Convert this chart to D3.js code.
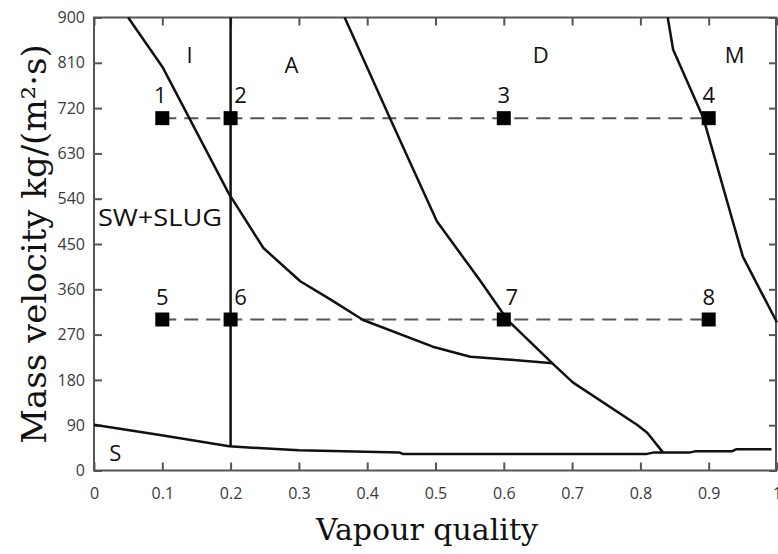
<!DOCTYPE html>
<html>
<head>
<meta charset="utf-8">
<script src="https://cdnjs.cloudflare.com/ajax/libs/d3/7.8.5/d3.min.js"></script>
<style>
  body { margin: 0; background: #fff; }
</style>
</head>
<body>
<div id="chart"></div>
<script>

// ---- data ----
var xTicks = [0, 0.1, 0.2, 0.3, 0.4, 0.5, 0.6, 0.7, 0.8, 0.9, 1];
var yTicks = [0, 90, 180, 270, 360, 450, 540, 630, 720, 810, 900];

// transition lines, [vapour quality, mass velocity]
var lineIA = [[0.050, 900], [0.101, 800], [0.197, 551], [0.248, 442], [0.302, 376], [0.346, 340],
  [0.394, 299], [0.496, 246], [0.551, 226], [0.600, 221], [0.663, 214], [0.672, 213]];
var lineAD = [[0.367, 900], [0.433, 701], [0.502, 495], [0.565, 378], [0.606, 298], [0.672, 212],
  [0.701, 175], [0.795, 91], [0.810, 75], [0.833, 36]];
var lineDM = [[0.840, 900], [0.848, 836], [0.892, 701], [0.950, 425], [1.0, 294]];
var lineS = [[0, 91], [0.099, 70], [0.198, 48], [0.300, 40], [0.447, 36], [0.452, 33], [0.810, 33],
  [0.820, 36], [0.873, 36], [0.880, 38], [0.934, 38], [0.940, 42], [0.992, 42]];
var lineSW = [[0.2, 48], [0.2, 900]];

// test points
var pointQuality = [0.1, 0.2, 0.6, 0.9, 0.1, 0.2, 0.6, 0.9];
var pointMass = [700, 700, 700, 700, 300, 300, 300, 300];
var pointNames = ['1', '2', '3', '4', '5', '6', '7', '8'];
var testMass = [700, 300];

// flow regime names
var regimeNames = ['I', 'A', 'D', 'M', 'S', 'SW+SLUG'];
var regimeQuality = [0.14, 0.289, 0.654, 0.938, 0.031, 0.0965];
var regimeMass = [810, 789, 810, 810, 18, 485];

function renderChart(params) {

  // Exposed variables
  var attrs = {
    svgWidth: 778,
    svgHeight: 554,
    marginTop: 17.5,
    marginBottom: 83.5,
    marginRight: 1,
    marginLeft: 94,
    container: 'body',
    lineColor: '#111',
    frameColor: '#555',
    tickColor: '#3a3a3a'
  };

  var main = function (selection) {
    selection.each(function scope() {

      //Calculated properties
      var calc = {};
      calc.chartWidth = attrs.svgWidth - attrs.marginRight - attrs.marginLeft;
      calc.chartHeight = attrs.svgHeight - attrs.marginBottom - attrs.marginTop;

      //Scales
      var scales = {};
      scales.x = d3.scaleLinear().domain([0, 1]).range([0, calc.chartWidth]);
      scales.y = d3.scaleLinear().domain([0, 900]).range([calc.chartHeight, 0]);

      var line = d3.line()
        .x(function (d) { return scales.x(d[0]); })
        .y(function (d) { return scales.y(d[1]); });

      var container = d3.select(this);

      var svg = container.patternify({ tag: 'svg', selector: 'svg-chart-container' })
        .attr('width', attrs.svgWidth)
        .attr('height', attrs.svgHeight)
        .style('display', 'block');

      var chart = svg.patternify({ tag: 'g', selector: 'chart' })
        .attr('transform', 'translate(' + attrs.marginLeft + ',' + attrs.marginTop + ')');

      //axes, ticks pointing inwards
      var axisBottom = chart.patternify({ tag: 'g', selector: 'axis-bottom' })
        .attr('transform', 'translate(0,' + calc.chartHeight + ')')
        .call(d3.axisBottom(scales.x).tickValues(xTicks).tickSize(-8).tickPadding(17)
          .tickFormat(function (d) { return d3.format('~g')(d); }));

      var axisLeft = chart.patternify({ tag: 'g', selector: 'axis-left' })
        .call(d3.axisLeft(scales.y).tickValues(yTicks).tickSize(-8).tickPadding(9));

      var axisTop = chart.patternify({ tag: 'g', selector: 'axis-top' })
        .call(d3.axisTop(scales.x).tickValues(xTicks).tickSize(-8).tickFormat(''));

      var axisRight = chart.patternify({ tag: 'g', selector: 'axis-right' })
        .attr('transform', 'translate(' + calc.chartWidth + ',0)')
        .call(d3.axisRight(scales.y).tickValues(yTicks).tickSize(-8).tickFormat(''));

      [axisBottom, axisLeft, axisTop, axisRight].forEach(function (ax) {
        ax.select('.domain').remove();
        ax.selectAll('.tick line').attr('stroke', attrs.frameColor).attr('stroke-width', 2);
        ax.selectAll('.tick text')
          .attr('fill', attrs.tickColor)
          .style('font-family', '"Open Sans", sans-serif')
          .style('font-size', '16px');
      });

      //frame
      chart.patternify({ tag: 'rect', selector: 'frame' })
        .attr('x', 0)
        .attr('y', 0)
        .attr('width', calc.chartWidth - 1)
        .attr('height', calc.chartHeight)
        .attr('fill', 'none')
        .attr('stroke', attrs.frameColor)
        .attr('stroke-width', 2);

      //dashed test lines
      chart.patternify({ tag: 'line', selector: 'test-line', data: testMass })
        .attr('x1', scales.x(d3.min(pointQuality)))
        .attr('x2', scales.x(d3.max(pointQuality)))
        .attr('y1', function (d) { return scales.y(d); })
        .attr('y2', function (d) { return scales.y(d); })
        .attr('stroke', '#555')
        .attr('stroke-width', 2)
        .attr('stroke-dasharray', '14,8');

      //transition lines
      chart.patternify({ tag: 'path', selector: 'transition', data: [lineIA, lineAD, lineDM, lineS, lineSW] })
        .attr('d', line)
        .attr('fill', 'none')
        .attr('stroke', attrs.lineColor)
        .attr('stroke-width', 2.5)
        .attr('stroke-linejoin', 'round');

      //points
      var points = pointNames.map(function (name, i) {
        return { name: name, x: pointQuality[i], y: pointMass[i] };
      });
      // labels nudged right where a line passes through the marker
      var labelShift = { '1': -2, '2': 10, '6': 10, '7': 8 };

      chart.patternify({ tag: 'rect', selector: 'marker', data: points })
        .attr('x', function (d) { return scales.x(d.x) - 7; })
        .attr('y', function (d) { return scales.y(d.y) - 7; })
        .attr('width', 14)
        .attr('height', 14)
        .attr('fill', '#000');

      chart.patternify({ tag: 'text', selector: 'marker-label', data: points })
        .attr('x', function (d) { return scales.x(d.x) + (labelShift[d.name] || 0); })
        .attr('y', function (d) { return scales.y(d.y) - 15; })
        .attr('text-anchor', 'middle')
        .style('font-family', '"Open Sans", sans-serif')
        .style('font-size', '22px')
        .attr('fill', '#111')
        .text(function (d) { return d.name; });

      //regime names
      var regimes = regimeNames.map(function (name, i) {
        return { name: name, x: regimeQuality[i], y: regimeMass[i] };
      });
      chart.patternify({ tag: 'text', selector: 'regime-label', data: regimes })
        .attr('x', function (d) { return scales.x(d.x); })
        .attr('y', function (d) { return scales.y(d.y); })
        .attr('text-anchor', 'middle')
        .style('font-family', '"Open Sans", sans-serif')
        .style('font-size', function (d) { return d.name.length > 1 ? '24px' : '22px'; })
        .attr('fill', '#111')
        .text(function (d) { return d.name; })
        .filter(function (d) { return d.name.length > 1; })
        .attr('textLength', 124)
        .attr('lengthAdjust', 'spacingAndGlyphs');

      //axis titles
      svg.patternify({ tag: 'text', selector: 'x-title' })
        .attr('x', 427)
        .attr('y', 540)
        .attr('text-anchor', 'middle')
        .style('font-family', '"DejaVu Serif", serif')
        .style('font-size', '30px')
        .attr('fill', '#111')
        .text('Vapour quality');

      svg.patternify({ tag: 'text', selector: 'y-title' })
        .attr('transform', 'translate(46,244) rotate(-90)')
        .attr('text-anchor', 'middle')
        .style('font-family', '"DejaVu Serif", serif')
        .style('font-size', '34px')
        .attr('fill', '#111')
        .text('Mass velocity kg/(m²·s)');
    });
  };

  d3.selection.prototype.patternify = function (params) {
    var container = this;
    var selector = params.selector;
    var data = params.data || [selector];
    var selection = container.selectAll('.' + selector).data(data);
    selection.exit().remove();
    selection = selection.enter().append(params.tag).merge(selection);
    selection.attr('class', selector);
    return selection;
  };

  main.run = function () {
    d3.selectAll(attrs.container).call(main);
    return main;
  };

  return main;
}

renderChart().run();
</script>
</body>
</html>
